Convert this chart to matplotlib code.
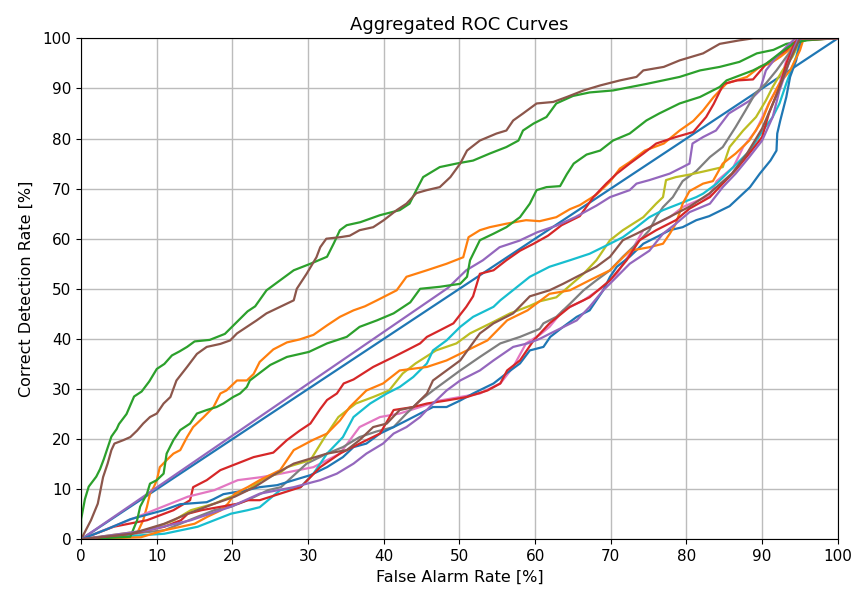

import matplotlib
matplotlib.use('Agg')
from matplotlib import pyplot as plt


# chance diagonal (blue)
x_diag = [0, 100]
y_diag = [0, 100]

# orange, upper
x_or1 = [0, 7.4, 8.2, 8.7, 9.1, 9.6, 10, 10.4, 11.3, 12.2, 13.1, 14, 14.8, 16.2, 17.5, 18.4, 19.2,
         20.6, 21.9, 22.8, 23.6, 25.4, 27.2, 28.9, 30.7, 32.5, 34.2, 36, 37.5, 39.1, 41.7, 43, 45.7,
         48.3, 50.5, 51.2, 52.7, 54, 56.2, 58.8, 60.6, 62.8, 64.6, 65.9, 68.1, 69.9, 71.2, 72.5, 74.5,
         77, 79.1, 80.9, 82.2, 83.6, 85.3, 88, 89.7, 91.1, 92.4, 94.1, 95, 100]
y_or1 = [0, 1.2, 3.8, 6.5, 9.1, 10.4, 11.8, 14.4, 15.8, 17.1, 17.8, 20.4, 22.4, 24.4, 26.4, 29.1, 29.7,
         31.7, 31.7, 33.0, 35.4, 37.9, 39.3, 39.9, 40.8, 42.7, 44.4, 45.7, 46.5, 47.7, 49.7, 52.4, 53.7,
         55, 56.3, 60.3, 61.7, 62.3, 63, 63.7, 63.5, 64.3, 65.9, 66.7, 68.8, 71.4, 74, 75.3, 77.6,
         79, 81.6, 83.5, 85.6, 88.3, 91, 92.3, 94.3, 95, 96.3, 98.3, 99.8, 100]

# green, top left
x_gr1 = [0, 0, 0.5, 1, 2, 2.5, 3, 4, 4.7, 5, 6, 7, 8, 9, 10, 11, 12, 13, 14, 15, 17, 19, 20, 21, 22,
         23, 24.5, 26.3, 28.1, 30.3, 32.5, 33.4, 34.2, 35.1, 36.9, 39.5, 42.1, 43.4, 44.3, 45.2,
         47.4, 49.6, 51.8, 54, 56.2, 57.8, 58.4, 59.8, 61.5, 62.8, 65, 67.2, 70.3, 74.7, 79.1, 81.8,
         84.4, 87, 89.3, 91.5, 93.2, 95.9, 99, 100]
y_gr1 = [0, 4, 8, 10.5, 12.5, 14, 16, 20.5, 22, 23, 25, 28.5, 29.5, 31.5, 34, 35, 36.7, 37.5, 38.4,
         39.5, 39.8, 41, 42.5, 44, 45.5, 46.5, 49.7, 51.7, 53.7, 55, 56.4, 59.1, 61.7, 62.7, 63.3,
         64.7, 65.7, 67, 69.7, 72.3, 74.3, 75, 75.6, 77, 78.3, 79.6, 81.6, 83, 84.3, 87, 88.5, 89.2,
         89.6, 90.9, 92.3, 93.6, 94.3, 95.3, 97, 97.7, 98.9, 99.6, 100, 100]

# red, upper
x_rd1 = [0, 4.3, 8.7, 12.2, 14.4, 14.8, 16.6, 18.4, 20.6, 22.8, 25.4, 27.2, 28.9, 30.3, 31.6, 32.5,
         33.8, 34.7, 36, 38.6, 41.3, 43, 44.8, 45.7, 47.4, 49.2, 50.9, 51.8, 52.7, 54.5, 56.2, 58,
         59.8, 61.7, 63.5, 65.9, 67.7, 69.4, 70.8, 72.5, 74.3, 76, 78.6, 80.9, 82.6, 83.6, 84.9,
         86.7, 88.8, 90.6, 91.9, 93.2, 94.6, 100]
y_rd1 = [0, 2.5, 3.8, 5.8, 7.8, 10.4, 11.8, 13.8, 15.1, 16.4, 17.3, 19.8, 21.7, 23.1, 26.0, 27.8,
         29.1, 31.1, 31.9, 34.4, 36.4, 37.7, 39.1, 40.4, 41.7, 43.1, 46.4, 48.5, 53, 53.7, 55.7, 57.6,
         59, 60.6, 62.7, 64.5, 68.3, 71, 73, 75, 77, 79, 80.3, 81.3, 84.3, 86.9, 90.9,
         91.6, 91.8, 95, 96.3, 97.7, 99.6, 100]

# purple, straight start then near the diagonal
x_pu1 = [0, 48.5, 50.9, 53.1, 55.3, 57.9, 60.3, 62.8, 65.3, 68.1, 69.9, 72.5, 73.4, 75.1, 77.8,
         79.5, 80.4, 80.8, 82.2, 83.9, 85.6, 88.3, 89.7, 90.5, 91.9, 93.2, 94.4, 100]
y_pu1 = [0, 50.2, 53.7, 55.7, 58.3, 59.6, 61.3, 62.6, 64.3, 66.6, 68.3, 69.7, 71, 71.7, 73,
         74.3, 75, 79, 80.3, 81.6, 85, 87.5, 89.6, 93.6, 96.3, 98.3, 100, 100]

# brown, top left
x_br1 = [0, 1.3, 2.2, 2.9, 3.5, 4, 4.4, 5.6, 6.5, 7.4, 8.2, 9.1, 10, 10.9, 11.8, 12.6, 14, 15.3,
         16.6, 18.4, 19.7, 20.6, 21.9, 23.2, 24.5, 26.3, 28.1, 28.5, 29.8, 31.1, 31.6, 32.4, 34.2,
         35.5, 36.8, 38.6, 40, 41.7, 43, 44.3, 45.7, 47.4, 48.8, 50.1, 51, 52.7, 54.9, 56.2, 57.1,
         58.4, 60.2, 62.4, 64.2, 66.4, 68.6, 71.2, 73.4, 74.3, 77, 79.1, 82.2, 84.4, 87, 88.8, 100]
y_br1 = [0, 3.8, 7.1, 12.4, 15.1, 17.8, 19.1, 19.8, 20.4, 21.7, 23.1, 24.4, 25.1, 27.1, 28.4, 31.7,
         34.4, 37, 38.4, 39, 39.7, 41.1, 42.4, 43.7, 45.1, 46.4, 47.7, 50, 53, 56.3, 58.3, 60,
         60.3, 60.6, 61.7, 62.3, 63.7, 65.7, 67, 69.1, 69.7, 70.3, 72.3, 75, 77.6, 79.6, 81, 81.6,
         83.6, 85, 87, 87.3, 88.3, 89.6, 90.6, 91.6, 92.3, 93.6, 94.3, 95.6, 97, 98.9, 99.6, 100, 100]

# pink
x_pk = [0, 14.1, 17.6, 20.7, 23.8, 26.4, 30.7, 34.2, 36.8, 39.5, 42.1, 44.8, 47.4, 50.1, 52.7,
        55.4, 57.1, 58.8, 60.6, 61.9, 63.7, 66.4, 69, 70.8, 72.5, 74.3, 76, 77.8, 79.5, 81.3, 83,
        84, 86.2, 87.5, 89.2, 90.9, 92.3, 93.2, 94.5, 95.2, 100]
y_pk = [0, 8.5, 9.8, 11.8, 12.4, 13.1, 14.4, 17.1, 22.4, 24.4, 25.1, 26.4, 27.7, 28.4, 29.1,
        31.1, 34.4, 39.1, 40.8, 42.4, 45.7, 47.7, 50.4, 53, 57, 61.7, 63, 64.3, 66.3, 67.5, 68.5,
        71.5, 74.3, 78.3, 81.6, 87, 91, 95.6, 99, 100, 100]

# gray
x_gy = [0, 11, 15.4, 17.6, 19.8, 22, 24.7, 26.4, 29.8, 32.5, 34.6, 36.8, 39, 41.3, 43, 44.8, 46.5,
        48.3, 50.1, 52.7, 55.4, 58, 60.6, 61.1, 62.8, 64.6, 66.4, 68.1, 69.9, 71.6, 73.4, 75.1, 76,
        76.9, 78.2, 79.5, 81.3, 83.1, 84.8, 86.5, 87.8, 89.1, 90.5, 91.9, 93.2, 94.5, 95, 100]
y_gy = [0, 1.8, 4.5, 5.8, 6.5, 7.8, 9.8, 10.4, 15.1, 17.1, 18.4, 20.4, 21.5, 22.4, 25.1, 27.7, 29.7,
        31.7, 33.7, 36.4, 39.1, 40.4, 42, 43.1, 44.4, 47, 49.7, 51.7, 53.7, 56.4, 59, 61.7, 64.3,
        66.3, 68.3, 71.5, 73.5, 76.3, 78.3, 82.3, 85.6, 89, 91, 93.6, 96.3, 99, 100, 100]

# olive
x_ol = [0, 8.8, 12.3, 14.5, 17.6, 19.8, 22, 23.8, 26.4, 27.2, 30.3, 32.2, 34, 36.3, 38.6, 40.7,
        42.5, 44.2, 46.9, 49.6, 51.4, 54.1, 56.7, 59.3, 60.6, 62.8, 66.4, 68.1, 69.9, 71.6, 74.3, 76,
        76.9, 77.3, 78.6, 80.4, 82.2, 84.8, 85.7, 87.5, 89.2, 90.5, 91.4, 92.7, 94, 94.9, 95.3, 100]
y_ol = [0, 1.8, 3.8, 5.8, 7.1, 8.5, 9.8, 11.8, 13.4, 14.4, 15.8, 20.4, 24.4, 27.1, 28.4, 29.7,
        33.1, 35.1, 37.7, 39.1, 41.1, 43.1, 45.1, 46.6, 47.5, 48.3, 53, 55.7, 59.7, 61.7, 64.3, 67,
        68.3, 71.7, 72.3, 72.8, 73.4, 74.3, 78.3, 81.6, 84.3, 87.6, 90.3, 93.6, 96.3, 99, 100, 100]

# cyan
x_cy = [0, 11, 15.4, 17.6, 19.8, 22, 23.6, 26.3, 29, 30.7, 32.5, 34.6, 36, 38.2, 40.4, 42.1, 43.9,
        45.7, 46.5, 48.3, 50.1, 51.8, 54.5, 55.4, 59.3, 61.9, 64.6, 67.2, 69.9, 71.6, 73.4, 75.1,
        76.9, 79.1, 81.3, 82.2, 84, 86.2, 88.4, 90.1, 91.4, 92.3, 93.2, 94.5, 95.2, 100]
y_cy = [0, 1.1, 2.5, 3.8, 5.1, 5.8, 6.4, 9.8, 10.4, 13.1, 17.1, 20.4, 24.4, 27.1, 29.1, 30.4, 32.4,
        35.1, 37.7, 39.7, 42.4, 44.4, 46.4, 47.7, 52.4, 54.4, 55.7, 57, 59, 60.3, 62.3, 64.3,
        65.7, 67, 68.3, 69, 71, 74.3, 77.6, 81.6, 84.3, 87, 91, 96.3, 100, 100]

# blue, lowest curve
x_bl2 = [0, 3.4, 6.5, 10.9, 13.1, 16.6, 17.5, 18.8, 21.9, 23.6, 25.9, 28.1, 30.3, 32.5, 34.6, 36,
         37.7, 39.5, 41.3, 43, 44.8, 46.5, 48.3, 50.1, 51.8, 54.5, 56.2, 58, 59.3, 61.1, 62, 63.7,
         65.5, 67.2, 69, 69.9, 70.8, 72.5, 74.3, 76, 77.8, 79.5, 81.3, 83, 85.7, 88.4, 89.7, 91.1,
         91.9, 92, 92.4, 93.2, 93.7, 94.5, 94.9, 95.4, 100]
y_bl2 = [0, 2, 4, 5.8, 7, 7.4, 8, 9, 9.8, 10.4, 10.8, 11.8, 12.8, 14.4, 16.4, 18.4,
         19.1, 21.1, 22.4, 23.7, 25.1, 26.4, 26.4, 27.7, 29.1, 31.1, 33.1, 35.1, 37.7, 38.4, 40.4,
         42.4, 44.4, 45.7, 49.7, 52.4, 54.4, 56.4, 59, 60.3, 61.7, 62.3, 63.7, 64.5, 66.5, 70.3,
         73, 75.6, 77.6, 81, 83.6, 88.3, 92.3, 95.6, 98.3, 100, 100]

# orange, lower
x_or2 = [0, 7.9, 11, 13.2, 15, 16.7, 18.5, 19.4, 20.3, 22, 23.6, 26.3, 28.1, 30.6, 32.5, 34.2,
         35.5, 37.7, 39.9, 42.1, 45.7, 48.3, 51, 53.7, 56.3, 59, 61.9, 64.6, 67.2, 69.9, 72.5, 75.1,
         76.9, 77.8, 78.6, 79.5, 80.4, 82.2, 83.5, 84.8, 86.5, 88.3, 90, 90.9, 92.3, 93.7, 95,
         95.5, 100]
y_or2 = [0, 0.4, 1.8, 2.5, 3.1, 4.5, 5.8, 7.1, 9.1, 10.4, 11.8, 13.8, 17.8, 19.8, 21.1, 23.7,
         26.4, 29.7, 31.1, 33.7, 34.4, 35.7, 37.7, 39.7, 43.7, 45.7, 49, 49.7, 51.7, 53.7, 57.6, 58.3,
         59, 61, 63, 67, 69.5, 71, 71.5, 75, 77, 79.6, 83.6, 87, 91, 93.6, 97.6,
         100, 100]

# green, middle
x_gr2 = [0, 6.5, 7.4, 7.8, 8.7, 9.1, 10, 10.9, 11.3, 12.2, 13.1, 14.4, 15.3, 16.6, 17.9, 18.8,
         20.1, 21, 21.9, 22.3, 23.6, 25, 27.2, 30.1, 32.5, 35.1, 36.8, 39.1, 41.3, 43.5, 44.8, 47.4,
         50.1, 51, 51.4, 52.7, 54.5, 56.2, 58, 59.3, 60.2, 61.5, 63.3, 64.2, 65.1, 66.8, 68.6,
         70.3, 72.5, 74.7, 76.4, 79.1, 81.8, 84.4, 85.3, 88.8, 90.6, 92.3, 94.1, 95.9, 100]
y_gr2 = [0, 0.5, 3.8, 6.5, 9.1, 11.1, 11.8, 13.1, 17.1, 19.8, 21.8, 23.1, 25.1, 25.8, 26.4, 27.1,
         28.4, 29.1, 30.4, 31.7, 33.2, 34.8, 36.4, 37.4, 39.1, 40.4, 42.4, 43.7, 45.1, 47.3, 50, 50.4,
         51, 52.4, 55.7, 59.7, 61, 62.3, 64.3, 67, 69.7, 70.3, 70.5, 72.9, 75, 76.8, 77.6,
         79.6, 81, 83.6, 85, 87, 88.3, 90.3, 91.6, 93.6, 95, 97, 98.9, 99.7, 100]

# red, lower
x_rd2 = [0, 6.6, 11, 13.2, 14.1, 15.9, 18.5, 20.7, 22, 23.6, 26.3, 29, 31.6, 34.2, 36.8, 39.5,
         41.3, 43.9, 45.7, 48.3, 51, 53.7, 55.4, 56.3, 58, 59.8, 61.9, 64.6, 67.2, 69.9, 72.1, 73.8,
         76, 78.6, 80.4, 83.1, 84.8, 86.5, 88.3, 90, 90.9, 92.3, 93.2, 94.1, 94.8, 100]
y_rd2 = [0, 1.1, 2.5, 3.8, 5.1, 5.8, 6.5, 7.1, 7.8, 7.8, 9.1, 10.4, 14.4, 17.1, 19.1, 21.1,
         25.8, 26.4, 27.1, 27.7, 28.4, 29.7, 31.1, 33.7, 35.7, 39.7, 43.1, 46.4, 48.3, 51.7, 55.7,
         59.7, 61.7, 63.7, 66, 68.3, 71, 73.7, 77, 80.3, 85, 90.3, 95, 98.3, 100, 100]

# purple, lower
x_pu2 = [0, 8.8, 14.5, 19.8, 23.6, 28.1, 31.6, 33.8, 36, 37.7, 39.9, 41.3, 43, 44.8, 46.5, 48.3,
         50.1, 52.7, 54.5, 57.1, 59, 60.6, 61.9, 65.5, 67.2, 69, 70.8, 72.5, 75.1, 76.9, 78.6, 80.4,
         83.1, 84.8, 86.5, 88.3, 90, 91.4, 92.3, 93.2, 94.1, 94.8, 100]
y_pu2 = [0, 1.8, 3.8, 6.5, 9.1, 10.4, 11.8, 13.1, 15.1, 17.1, 19.1, 21.1, 22.4, 24.4, 27.1, 29.7,
         31.7, 33.7, 35.7, 38.4, 39.1, 40, 41, 43.7, 46.4, 49.7, 52.4, 55, 57.6, 61, 63, 65.3,
         67, 70.3, 73, 76.3, 79.6, 84.3, 89.6, 93.6, 97.6, 100, 100]

# brown, lower
x_br2 = [0, 6.6, 11, 14.1, 17.6, 20.3, 22.9, 25.4, 28.1, 32.5, 35.1, 36.8, 38.6, 40.4, 42.1, 43.9,
         45.7, 46.5, 48.3, 50.1, 51.4, 52.7, 54.5, 57.1, 59.3, 61.9, 63.7, 65.5, 68.1, 69.9, 71.6,
         73.4, 75.1, 76.9, 78.6, 80.4, 83, 86, 88, 90, 92, 93.5, 95, 100]
y_br2 = [0, 1.1, 3.1, 5.1, 7.1, 8.5, 10.4, 12.8, 15.1, 17.1, 17.8, 19.8, 22.4, 23.1, 25.8, 26.4,
         29.1, 31.7, 33.7, 35.7, 38.4, 41.1, 43.1, 45.1, 48.5, 49.7, 51, 52.4, 54.4, 56.4, 59.7,
         61, 62.3, 63.7, 65, 66.4, 69, 73, 77, 82, 89, 95, 100, 100]

curves = [
    (x_diag, y_diag, 'tab:blue'),
    (x_or1, y_or1, 'tab:orange'),
    (x_gr1, y_gr1, 'tab:green'),
    (x_rd1, y_rd1, 'tab:red'),
    (x_pu1, y_pu1, 'tab:purple'),
    (x_br1, y_br1, 'tab:brown'),
    (x_pk, y_pk, 'tab:pink'),
    (x_gy, y_gy, 'tab:gray'),
    (x_ol, y_ol, 'tab:olive'),
    (x_cy, y_cy, 'tab:cyan'),
    (x_bl2, y_bl2, 'tab:blue'),
    (x_or2, y_or2, 'tab:orange'),
    (x_gr2, y_gr2, 'tab:green'),
    (x_rd2, y_rd2, 'tab:red'),
    (x_pu2, y_pu2, 'tab:purple'),
    (x_br2, y_br2, 'tab:brown'),
]

fig = plt.figure(figsize=(8.54, 5.90), dpi=100)
ax = fig.add_axes([0.095, 0.086, 0.886, 0.849])

for x, y, c in curves:
    ax.plot(x, y, color=c, linewidth=1.6)

ax.set_xlim(0, 100)
ax.set_ylim(0, 100)
ax.set_xticks(range(0, 101, 10))
ax.set_yticks(range(0, 101, 10))
ax.tick_params(labelsize=11)
ax.grid(True, color='#bcbcbc', linewidth=1.0)
ax.set_axisbelow(True)
ax.set_title('Aggregated ROC Curves', fontsize=13)
ax.set_xlabel('False Alarm Rate [%]', fontsize=11.5)
ax.set_ylabel('Correct Detection Rate [%]', fontsize=11.5, labelpad=6)

fig.savefig('out.png', dpi=100)
